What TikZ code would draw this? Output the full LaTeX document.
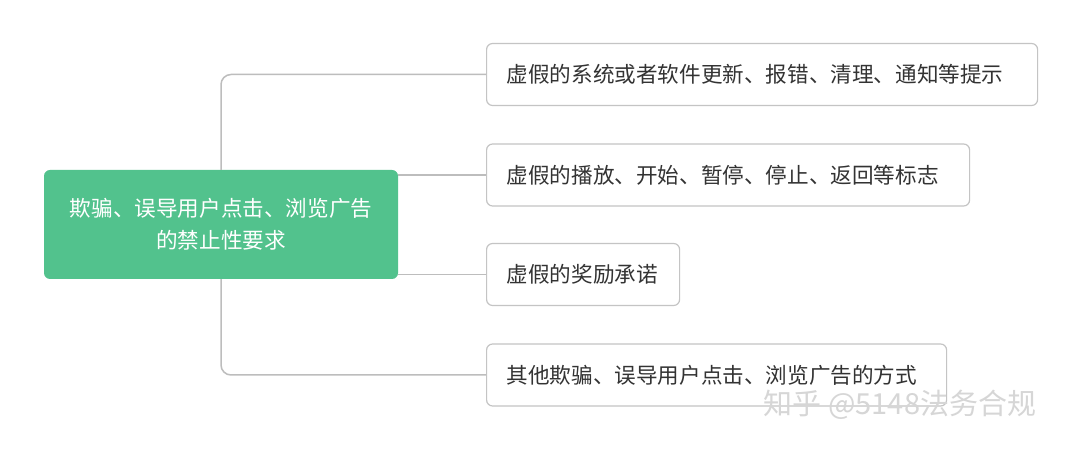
\documentclass[tikz,border=0pt]{standalone}
\usepackage{fontspec}
\setmainfont{Noto Sans CJK SC}
\usetikzlibrary{positioning}
\definecolor{pcFFFFFF}{HTML}{FFFFFF}
\definecolor{pc52C28D}{HTML}{52C28D}
\definecolor{pcC4C4C4}{HTML}{C4C4C4}
\definecolor{pcBDBDBD}{HTML}{BDBDBD}
\definecolor{pc333333}{HTML}{333333}
\definecolor{pcD6D6D6}{HTML}{D6D6D6}
\tikzset{
  rootbox/.style={fill=pc52C28D, rounded corners=6bp, minimum width=354bp, minimum height=109bp,
    text width=330bp, align=center, text=pcFFFFFF, inner sep=0,
    font=\fontsize{21.6bp}{32bp}\selectfont},
  leafbox/.style={draw=pcC4C4C4, line width=1.2bp, fill=pcFFFFFF, rounded corners=6bp,
    minimum height=62bp, inner xsep=20bp, inner ysep=0, anchor=west, align=left,
    text=pc333333, font=\fontsize{21.6bp}{26bp}\selectfont},
  link/.style={draw=pcBDBDBD, line width=1.5bp, rounded corners=10bp},
}
\begin{document}
\begin{tikzpicture}
\path[use as bounding box] (0bp,0bp) rectangle (1080bp,450bp);
\path[fill=pcFFFFFF] (0bp,0bp) rectangle (1080bp,450bp);
% root and leaves
\node[rootbox] (root) at (221bp,225.5bp) {欺骗、误导用户点击、浏览广告\\的禁止性要求};
\node[leafbox, text width=511bp] (fake1) at (486bp,375.5bp) {虚假的系统或者软件更新、报错、清理、通知等提示};
\node[leafbox, text width=443bp] (fake2) at (486bp,275bp) {虚假的播放、开始、暂停、停止、返回等标志};
\node[leafbox, text width=153bp] (fake3) at (486bp,175.5bp) {虚假的奖励承诺};
\node[leafbox, text width=420bp] (other) at (486bp,75bp) {其他欺骗、误导用户点击、浏览广告的方式};
% connectors
\draw[link] (root.north) |- (fake1.west);
\draw[link] (root.south) |- (other.west);
\draw[link] (fake2.west -| root.east) -- (fake2.west);
\draw[link] (fake3.west -| root.east) -- (fake3.west);
% watermark
\node[anchor=center, inner sep=0, text=pcD6D6D6, font=\fontsize{29bp}{32bp}\selectfont] (mark) at (900bp,45bp) {知乎 @5148法务合规};
\end{tikzpicture}
\end{document}
